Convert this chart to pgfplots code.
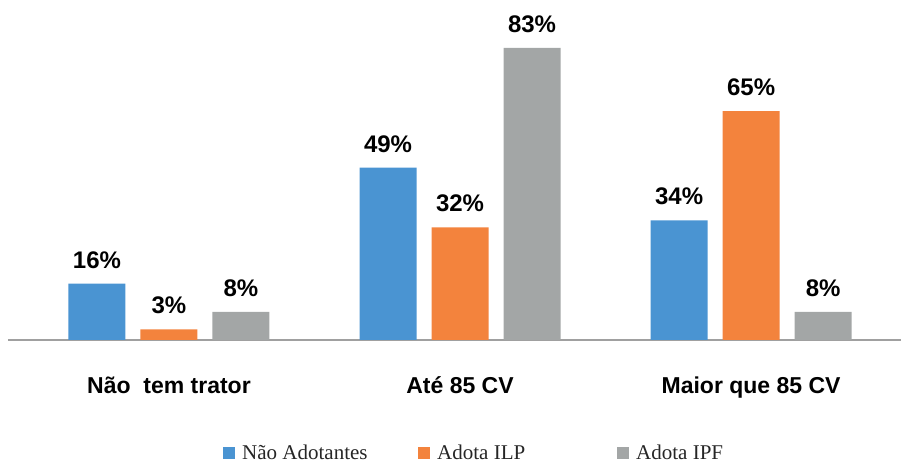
\documentclass[border=0pt]{standalone}
\usepackage{pgfplots}
\pgfplotsset{compat=1.18}
\usepackage{fontspec}
\setmainfont{Liberation Serif}
\newfontfamily\lsans{Liberation Sans}
\definecolor{cblue}{HTML}{4A94D2}
\definecolor{corange}{HTML}{F3833D}
\definecolor{cgray}{HTML}{A3A6A6}
\definecolor{cline}{HTML}{A0A0A0}
\begin{document}
\begin{tikzpicture}[x=1pt,y=1pt]
\path[use as bounding box] (0,0) rectangle (901,465);
\begin{axis}[
  at={(8pt,125pt)}, anchor=south west,
  scale only axis, width=893pt, height=340pt,
  xmin=-0.553, xmax=2.515, ymin=0, ymax=96.59,
  clip=false,
  /pgf/number format/assume math mode=true,
  ybar=15pt, bar width=57pt,
  axis x line*=bottom, axis y line=none,
  x axis line style={cline, line width=2pt, -},
  xtick={0,1,2}, xticklabels={{Não\ \ tem trator},{Até 85 CV},{Maior que 85 CV}},
  xtick style={draw=none},
  xticklabel style={font=\lsans\bfseries\fontsize{23}{23}\selectfont, yshift=-29pt},
  ytick=\empty,
  nodes near coords={\pgfmathprintnumber{\pgfplotspointmeta}\%},
  every node near coord/.append style={font=\lsans\bfseries\fontsize{24}{24}\selectfont, anchor=south, inner sep=0pt, yshift=15pt, text=black},
  legend columns=3,
  legend style={at={(0.522,-0.332)}, anchor=center, draw=none, fill=none,
    font=\fontsize{21}{21}\selectfont, text=black!85,
    /tikz/every odd column/.append style={column sep=5pt},
    /tikz/every even column/.append style={column sep=0pt}},
  legend image code/.code={\fill[#1] (0pt,-6pt) rectangle (12pt,6pt);},
]
\addplot[fill=cblue, draw=none] coordinates {(0,16) (1,49) (2,34)};
\addlegendentry{\makebox[174pt][l]{Não Adotantes}}
\addplot[fill=corange, draw=none] coordinates {(0,3) (1,32) (2,65)};
\addlegendentry{\makebox[178pt][l]{Adota ILP}}
\addplot[fill=cgray, draw=none] coordinates {(0,8) (1,83) (2,8)};
\addlegendentry{Adota IPF}
\end{axis}
\end{tikzpicture}
\end{document}
